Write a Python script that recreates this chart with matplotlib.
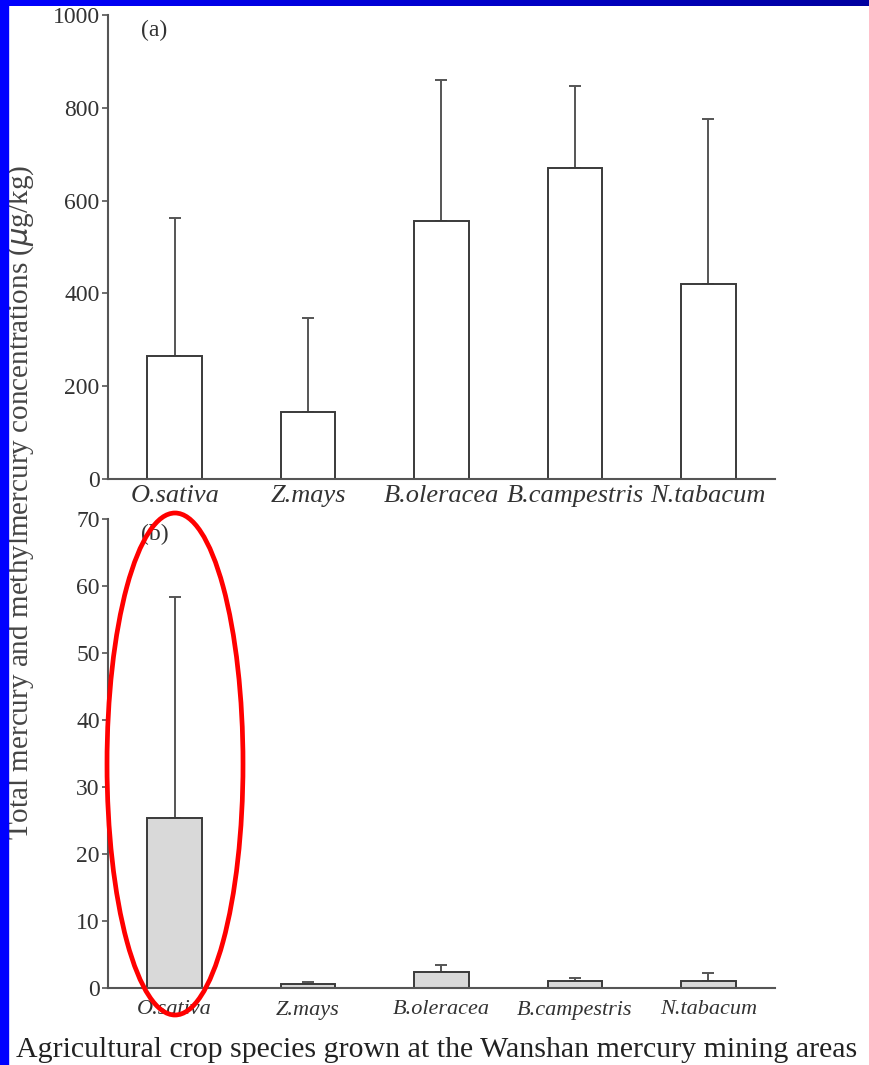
import numpy as np
import matplotlib
matplotlib.use('Agg')
import matplotlib.pyplot as plt
from matplotlib.patches import Ellipse, Rectangle

species = ['O.sativa', 'Z.mays', 'B.oleracea', 'B.campestris', 'N.tabacum']

# (a) total mercury, ug/kg
thg_mean = [265, 145, 556, 671, 420]
thg_top = [562, 348, 860, 848, 775]

# (b) methylmercury, ug/kg
mehg_mean = [25.3, 0.6, 2.4, 1.1, 1.1]
mehg_top = [58.3, 0.9, 3.4, 1.5, 2.2]

W, H = 870, 1065
fig = plt.figure(figsize=(W / 100, H / 100), dpi=100)
fig.patch.set_facecolor('white')
plt.rcParams['font.family'] = ['Liberation Serif', 'DejaVu Serif']

axcol = '#555555'


def fx(px):
    return px / W


def fy(py):
    return 1 - py / H


def panel(top, bottom, means, tops, fill, yticks, ymax, tag, lab_size, lab_pad):
    ax = fig.add_axes([fx(108), fy(bottom), fx(775) - fx(108), fy(top) - fy(bottom)])
    x = np.arange(len(species))
    means = np.array(means)
    err = np.array(tops) - means
    ax.bar(x, means, width=0.41, color=fill, edgecolor='#3a3a3a', linewidth=1.4, zorder=2)
    ax.errorbar(x, means, yerr=[np.zeros_like(err), err], fmt='none',
                ecolor=axcol, elinewidth=1.4, capsize=4, capthick=1.4, zorder=1)
    ax.set_xlim(-0.5, 4.5)
    ax.set_ylim(0, ymax)
    ax.set_yticks(yticks)
    ax.set_xticks(x)
    ax.set_xticklabels(species, fontsize=lab_size, style='italic', color='#333333')
    ax.tick_params(axis='x', length=0, pad=lab_pad)
    ax.tick_params(axis='y', length=4, width=1.2, color=axcol, labelsize=17,
                   labelcolor='#333333', pad=2)
    for s in ['top', 'right']:
        ax.spines[s].set_visible(False)
    for s in ['left', 'bottom']:
        ax.spines[s].set_color(axcol)
        ax.spines[s].set_linewidth(1.5)
    ax.text(0.05, 0.99, tag, transform=ax.transAxes, fontsize=17,
            color='#333333', va='top')
    return ax


panel(15, 479, thg_mean, thg_top, 'white', range(0, 1001, 200), 1000, '(a)', 19, 4)
panel(519, 988, mehg_mean, mehg_top, '#d9d9d9', range(0, 71, 10), 70, '(b)', 16, 9)

fig.text(fx(21), fy(502), 'Total mercury and methylmercury concentrations ($\\mu$g/kg)',
         rotation=90, ha='center', va='center', fontsize=21, color='#444444')
fig.text(fx(16), fy(1050), 'Agricultural crop species grown at the Wanshan mercury mining areas',
         ha='left', va='center', fontsize=21.5, color='#222222')

# slide frame: blue strips on the left and top
grad = fig.add_axes([0, fy(6), 1, 6 / H])
grad.imshow(np.linspace(0, 1, 256)[None, :], aspect='auto',
            cmap=matplotlib.colors.LinearSegmentedColormap.from_list('b', ['#0000ff', '#0000a0']))
grad.axis('off')
fig.patches.append(Rectangle((0, 0), fx(8), 1, transform=fig.transFigure,
                             color='#0000ff', zorder=5))

# red highlight around O.sativa in panel b
fig.patches.append(Ellipse((fx(175), fy(764)), fx(136), 502 / H, transform=fig.transFigure,
                           fill=False, edgecolor='#ff0000', linewidth=3.4, zorder=6))

fig.savefig('out.png', dpi=100)
